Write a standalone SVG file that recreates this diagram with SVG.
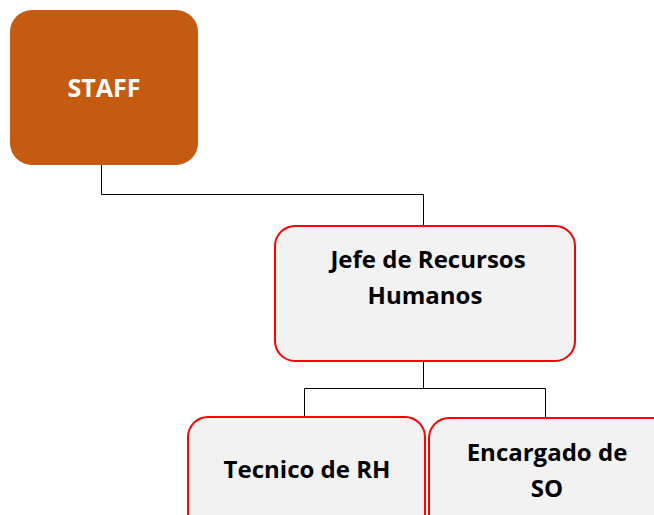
<svg xmlns="http://www.w3.org/2000/svg" width="654" height="515" viewBox="0 0 654 515">
<style>
.box{fill:#F2F2F2;stroke:#FF0000;stroke-width:2}
.t{font-family:"Open Sans","Liberation Sans",sans-serif;font-weight:bold;font-size:24px;fill:#000;text-anchor:middle}
.line{fill:none;stroke:#000;stroke-width:1}
</style>
<rect width="654" height="515" fill="#FFFFFF"/>
<g id="connectors">
<path class="line" d="M101.5,165 V194.5 H423.5 V225"/>
<path class="line" d="M423.5,362 V388.5 H304.5 V417 M423.5,388.5 H545.5 V418"/>
</g>
<g id="staff">
<rect x="10" y="10" width="188" height="155" rx="22" fill="#C55A11"/>
<text x="104" y="97" class="t" style="fill:#FFFFFF;font-size:25px">STAFF</text>
</g>
<g id="jefe">
<rect class="box" x="275" y="226" width="300" height="135" rx="20"/>
<text x="428" y="268" class="t">Jefe de Recursos</text>
<text x="425" y="304" class="t">Humanos</text>
</g>
<g id="tecnico">
<rect class="box" x="188" y="417" width="237" height="120" rx="20"/>
<text x="307" y="478" class="t">Tecnico de RH</text>
</g>
<g id="encargado">
<rect class="box" x="429" y="418" width="250" height="120" rx="20"/>
<text x="547" y="461" class="t">Encargado de</text>
<text x="547" y="497" class="t">SO</text>
</g>
</svg>
